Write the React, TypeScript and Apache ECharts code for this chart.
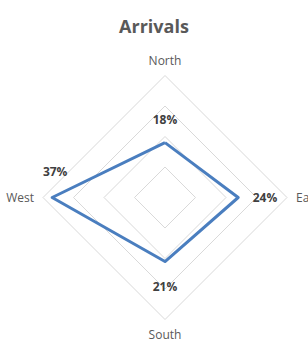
import React, { useEffect, useRef } from "react";
import * as echarts from "echarts";

const title = "Arrivals";
// indicators in ECharts' counter-clockwise order starting at the top
const directions = ["North", "West", "South", "East"];
const arrivals = [18, 37, 21, 24];
const labelPositions = ["top", "top", "bottom", "right"];
const labelDistances = [17, 20, 18, 14];
const axisMax = 40;
const splitCount = 4;

export default function App() {
  const ref = useRef<HTMLDivElement>(null);
  useEffect(() => {
    if (!ref.current) return;
    const chart = echarts.init(ref.current, undefined, { renderer: "svg" });
    const labelSeries = directions.map((d, k) => ({
      type: "radar",
      symbol: "circle",
      symbolSize: 1,
      itemStyle: { color: "rgba(0,0,0,0)" },
      lineStyle: { width: 0, opacity: 0 },
      z: 3,
      data: [
        {
          value: arrivals,
          label: {
            show: true,
            position: labelPositions[k],
            distance: labelDistances[k],
            offset: k === 1 ? [3, 0] : [0, 0],
            color: "#404040",
            fontWeight: "bold",
            fontSize: 12,
            fontFamily: "Open Sans",
            formatter: (p: any) => (p.value === arrivals[k] ? p.value + "%" : ""),
          },
        },
      ],
    }));
    chart.setOption({
      animation: false,
      backgroundColor: "#ffffff",
      title: {
        text: title,
        left: "center",
        top: 12,
        textStyle: {
          color: "#595959",
          fontSize: 18,
          fontWeight: "bold",
          fontFamily: "Open Sans",
        },
      },
      radar: {
        center: [165, 197.5],
        radius: 122,
        startAngle: 90,
        shape: "polygon",
        splitNumber: splitCount,
        indicator: directions.map((d) => ({ name: d, min: 0, max: axisMax })),
        axisName: {
          color: "#595959",
          fontSize: 12,
          fontFamily: "Open Sans",
        },
        nameGap: 9,
        axisLine: { show: false },
        axisTick: { show: false },
        axisLabel: { show: false },
        splitArea: { show: false },
        splitLine: { lineStyle: { color: "#d9d9d9", width: 1 } },
      },
      series: [
        {
          type: "radar",
          symbol: "none",
          lineStyle: { color: "#4a7ebf", width: 3 },
          z: 2,
          data: [{ value: arrivals }],
        },
        ...labelSeries,
      ],
    });
    return () => chart.dispose();
  }, []);
  return (
    <div
      ref={ref}
      style={{ position: "fixed", left: 0, top: 0, width: 308, height: 347 }}
    />
  );
}
